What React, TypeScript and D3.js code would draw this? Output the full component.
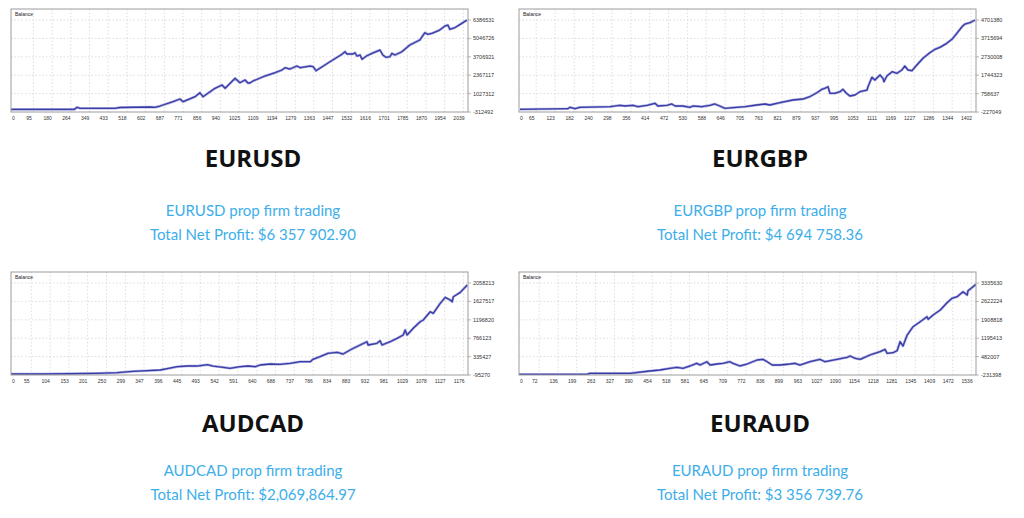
import React from "react";
import * as d3 from "d3";

// ---------- DATA ----------
const eurusdTrades = [14,300,313,326,371,484,507,643,665,688,746,778,792,846,868,882,936,968,982,1027,1049,1072,1085,1094,1108,1162,1208,1239,1253,1275,1307,1321,1366,1380,1393,1456,1510,1524,1533,1560,1569,1578,1592,1601,1623,1646,1682,1695,1709,1727,1736,1750,1781,1817,1862,1885,1899,1917,1952,1976,1989,1998,2020,2052,2075];
const eurusdBalance = [-123000,-123000,30000,-43000,-43000,-43000,15000,51000,30000,124000,438000,634000,438000,802000,1093000,802000,1413000,1654000,1413000,2141000,1821000,2018000,1799000,1799000,1945000,2309000,2549000,2746000,2913000,2819000,3037000,2913000,3037000,2986000,2695000,3350000,3889000,4078000,3911000,3911000,4005000,3765000,3838000,3525000,3787000,3962000,4202000,3838000,3671000,3714000,3962000,3838000,4078000,4566000,4930000,5462000,5345000,5418000,5658000,5950000,6022000,5709000,5826000,6146000,6386000];
const eurusdXTicks = [0,95,180,264,349,433,518,602,687,771,856,940,1025,1109,1194,1279,1363,1447,1532,1616,1701,1785,1870,1954,2039];
const eurusdYTicks = [-312492,1027312,2367117,3706921,5046726,6386531];
const eurusdXDomain = [14, 2080];

const eurgbpTrades = [29,176,183,198,213,306,336,352,376,392,420,444,453,481,496,506,530,551,561,588,613,628,643,659,696,721,757,782,797,828,868,899,920,942,957,966,976,982,997,1013,1022,1031,1043,1059,1074,1096,1099,1111,1120,1136,1145,1148,1157,1173,1188,1203,1212,1222,1234,1249,1268,1289,1305,1320,1341,1357,1372,1388,1397,1412,1428];
const eurgbpBalance = [-82000,-50000,25000,-50000,25000,57000,132000,94000,132000,57000,132000,239000,94000,132000,202000,94000,94000,25000,94000,57000,132000,202000,94000,-29000,25000,57000,148000,202000,148000,271000,416000,469000,593000,807000,989000,1043000,1128000,775000,775000,860000,989000,807000,630000,684000,860000,951000,1128000,1632000,1487000,1755000,1578000,1396000,1701000,1932000,1846000,2023000,2237000,2023000,1985000,2291000,2650000,2950000,3132000,3239000,3453000,3667000,3989000,4342000,4487000,4557000,4701000];
const eurgbpXTicks = [0,65,123,182,240,298,356,414,472,530,588,646,705,763,821,879,937,995,1053,1111,1169,1227,1286,1344,1402];
const eurgbpYTicks = [-227049,758637,1744323,2730008,3715694,4701380];
const eurgbpXDomain = [26, 1431];

const audcadTrades = [14,97,237,289,331,367,401,419,445,471,497,523,538,564,582,608,629,647,660,686,712,738,764,790,797,815,836,860,875,893,914,937,940,963,971,976,997,1015,1031,1036,1041,1057,1075,1083,1101,1109,1127,1140,1153,1158,1161,1179,1197];
const audcadBalance = [-72000,-72000,-55000,-41000,-9000,5000,22000,52000,99000,115000,115000,146000,115000,85000,62000,99000,115000,99000,139000,162000,155000,179000,216000,216000,272000,333000,413000,436000,396000,490000,584000,684000,607000,647000,708000,607000,684000,764000,841000,958000,841000,998000,1152000,1192000,1386000,1349000,1583000,1723000,1660000,1620000,1737000,1840000,2011000];
const audcadXTicks = [0,55,104,153,201,250,299,347,396,445,493,542,591,640,688,737,786,834,883,932,981,1029,1078,1127,1176];
const audcadYTicks = [-95270,335427,766123,1196820,1627517,2058213];
const audcadXDomain = [14, 1199];

const euraudTrades = [19,113,249,259,395,462,496,530,554,574,598,621,632,655,666,689,710,733,743,767,791,825,845,859,876,903,936,953,970,1004,1038,1055,1096,1130,1140,1157,1174,1207,1224,1241,1258,1265,1285,1299,1309,1319,1333,1353,1377,1400,1404,1421,1445,1468,1485,1502,1522,1536,1539,1556,1566];
const euraudBalance = [-204000,-204000,-204000,-165000,-165000,-76000,-38000,28000,67000,28000,118000,222000,156000,284000,156000,195000,222000,284000,222000,118000,195000,350000,377000,284000,156000,156000,195000,222000,156000,284000,377000,284000,377000,455000,505000,416000,377000,544000,610000,672000,765000,610000,633000,711000,1060000,893000,1319000,1641000,1835000,2029000,1928000,2095000,2289000,2572000,2742000,2804000,2998000,2870000,3037000,3192000,3285000];
const euraudXTicks = [0,72,136,199,263,327,390,454,518,581,645,709,772,836,899,963,1027,1090,1154,1218,1281,1345,1409,1472,1536];
const euraudYTicks = [-231398,482007,1195413,1908818,2622224,3335630];
const euraudXDomain = [19, 1566];

const pairNames = ["EURUSD", "EURGBP", "AUDCAD", "EURAUD"];
const netProfits = ["$6 357 902.90", "$4 694 758.36", "$2,069,864.97", "$3 356 739.76"];

// ---------- LAYOUT ----------
const W = 1024, H = 518;
const colLeft = [11, 519];
const colCenter = [253, 760];
const rowTop = [9, 272];
const plotW = 457, plotH = 103;
const titleBase = [167, 432];
const sub1Base = [216, 476];
const sub2Base = [240, 500];

const panels = [
  { trades: eurusdTrades, balance: eurusdBalance, xTicks: eurusdXTicks, yTicks: eurusdYTicks, xDomain: eurusdXDomain, col: 0, row: 0 },
  { trades: eurgbpTrades, balance: eurgbpBalance, xTicks: eurgbpXTicks, yTicks: eurgbpYTicks, xDomain: eurgbpXDomain, col: 1, row: 0 },
  { trades: audcadTrades, balance: audcadBalance, xTicks: audcadXTicks, yTicks: audcadYTicks, xDomain: audcadXDomain, col: 0, row: 1 },
  { trades: euraudTrades, balance: euraudBalance, xTicks: euraudXTicks, yTicks: euraudYTicks, xDomain: euraudXDomain, col: 1, row: 1 },
];

function Panel({ p, i }: { p: any; i: number }) {
  const L = colLeft[p.col];
  const T = rowTop[p.row];
  const R = L + plotW;
  const B = T + plotH;
  const step = p.yTicks[1] - p.yTicks[0];
  const yMax = p.yTicks[p.yTicks.length - 1] + step * 0.6;
  const x = d3.scaleLinear().domain(p.xDomain).range([L, R]);
  const y = d3.scaleLinear().domain([p.yTicks[0], yMax]).range([B, T]);
  const data = d3.zip(p.trades, p.balance) as [number, number][];
  const line = d3.line<[number, number]>().x(d => x(d[0])).y(d => y(d[1]));
  const clipId = `clip${i}`;
  const tickFont = "'Liberation Sans', Arial, sans-serif";
  return (
    <g>
      <defs>
        <clipPath id={clipId}>
          <rect x={L} y={T} width={plotW} height={plotH} />
        </clipPath>
      </defs>
      <rect x={L} y={T} width={plotW} height={plotH} fill="#fff" />
      {p.yTicks.slice(1).map((v: number) => (
        <line key={"gy" + v} x1={L} x2={R} y1={y(v)} y2={y(v)} stroke="#c8c8c8" strokeWidth={0.6} strokeDasharray="1.5,2" />
      ))}
      {p.xTicks.slice(1).map((v: number) => (
        <line key={"gx" + v} x1={x(v) + 4.5} x2={x(v) + 4.5} y1={T} y2={B} stroke="#c8c8c8" strokeWidth={0.6} strokeDasharray="1.5,2" />
      ))}
      <g clipPath={`url(#${clipId})`}>
        <path d={line(data) || ""} fill="none" stroke="#a9abdf" strokeWidth={2.6} strokeLinejoin="round" />
        <path d={line(data) || ""} fill="none" stroke="#3a3ca6" strokeWidth={1.3} strokeLinejoin="round" />
      </g>
      <rect x={L} y={T} width={plotW} height={plotH} fill="none" stroke="#9c9c9c" strokeWidth={1} />
      <text x={L + 4} y={T + 7} fontSize={5} fontFamily={tickFont} fill="#222">Balance</text>
      {p.yTicks.map((v: number) => (
        <g key={"ty" + v}>
          <line x1={R} x2={R + 3} y1={y(v)} y2={y(v)} stroke="#9c9c9c" strokeWidth={0.7} />
          <text x={R + 5} y={y(v) + 2} fontSize={5.5} fontFamily={tickFont} fill="#333">{String(v)}</text>
        </g>
      ))}
      {p.xTicks.map((v: number) => (
        <text key={"tx" + v} x={Math.max(x(v), L + 2.5)} y={B + 8} fontSize={5} fontFamily={tickFont} fill="#333" textAnchor="middle">{String(v)}</text>
      ))}
      <text x={colCenter[p.col]} y={titleBase[p.row]} fontSize={24} fontWeight={700} fontFamily="'Open Sans', sans-serif" fill="#111" textAnchor="middle">{pairNames[i]}</text>
      <text x={colCenter[p.col]} y={sub1Base[p.row]} fontSize={15} fontFamily="Lato, sans-serif" fill="#3daee9" textAnchor="middle">{pairNames[i] + " prop firm trading"}</text>
      <text x={colCenter[p.col]} y={sub2Base[p.row]} fontSize={15} fontFamily="Lato, sans-serif" fill="#3daee9" textAnchor="middle">{"Total Net Profit: " + netProfits[i]}</text>
    </g>
  );
}

export default function App() {
  return (
    <div style={{ position: "absolute", left: 0, top: 0, width: W, height: H, background: "#fff" }}>
      <svg width={W} height={H} viewBox={`0 0 ${W} ${H}`} style={{ display: "block" }}>
        <rect x={0} y={0} width={W} height={H} fill="#fff" />
        {panels.map((p, i) => (
          <Panel key={i} p={p} i={i} />
        ))}
      </svg>
    </div>
  );
}
